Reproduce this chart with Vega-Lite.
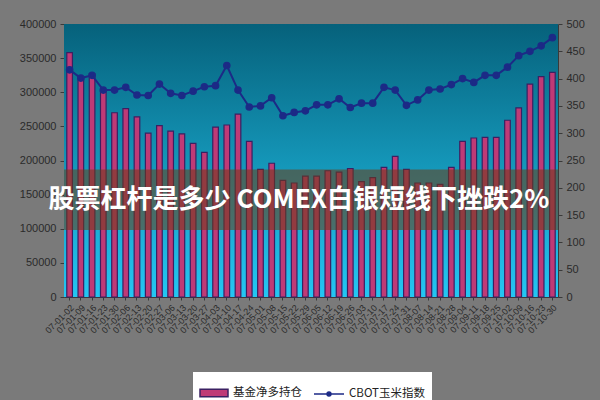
{
  "$schema": "https://vega.github.io/schema/vega-lite/v6.json",
  "width": 494,
  "height": 273,
  "autosize": "none",
  "padding": {"left": 64, "top": 24, "right": 42, "bottom": 103},
  "background": "#7a7a7a",
  "config": {
    "view": {"stroke": null},
    "axis": {"labelFont": "Liberation Sans", "labelColor": "#2a2a2a", "domainColor": "#3a3a3a", "tickColor": "#3a3a3a", "grid": false, "title": null, "labelOverlap": false},
    "legend": {"labelFont": "Noto Sans CJK SC", "labelFontSize": 11, "labelColor": "#222222", "title": null}
  },
  "data": {
    "values": [
      {"d": "07-01-02", "fund": 358000, "corn": 416},
      {"d": "07-01-09", "fund": 323000, "corn": 401},
      {"d": "07-01-16", "fund": 327000, "corn": 406},
      {"d": "07-01-23", "fund": 302000, "corn": 379},
      {"d": "07-01-30", "fund": 270000, "corn": 379},
      {"d": "07-02-06", "fund": 276000, "corn": 384},
      {"d": "07-02-13", "fund": 264000, "corn": 370},
      {"d": "07-02-20", "fund": 240000, "corn": 369},
      {"d": "07-02-27", "fund": 251000, "corn": 390},
      {"d": "07-03-06", "fund": 243000, "corn": 373},
      {"d": "07-03-13", "fund": 239000, "corn": 369},
      {"d": "07-03-20", "fund": 225000, "corn": 377},
      {"d": "07-03-27", "fund": 212000, "corn": 385},
      {"d": "07-04-03", "fund": 249000, "corn": 387},
      {"d": "07-04-10", "fund": 252000, "corn": 424},
      {"d": "07-04-17", "fund": 268000, "corn": 379},
      {"d": "07-04-24", "fund": 228000, "corn": 348},
      {"d": "07-05-01", "fund": 187000, "corn": 350},
      {"d": "07-05-08", "fund": 196000, "corn": 365},
      {"d": "07-05-15", "fund": 171000, "corn": 332},
      {"d": "07-05-22", "fund": 167000, "corn": 338},
      {"d": "07-05-29", "fund": 177000, "corn": 341},
      {"d": "07-06-05", "fund": 177000, "corn": 352},
      {"d": "07-06-12", "fund": 185000, "corn": 352},
      {"d": "07-06-19", "fund": 183000, "corn": 363},
      {"d": "07-06-26", "fund": 188000, "corn": 347},
      {"d": "07-07-03", "fund": 169000, "corn": 355},
      {"d": "07-07-10", "fund": 175000, "corn": 355},
      {"d": "07-07-17", "fund": 190000, "corn": 384},
      {"d": "07-07-24", "fund": 206000, "corn": 379},
      {"d": "07-07-31", "fund": 187000, "corn": 351},
      {"d": "07-08-07", "fund": 167000, "corn": 361},
      {"d": "07-08-14", "fund": 167000, "corn": 379},
      {"d": "07-08-21", "fund": 165000, "corn": 381},
      {"d": "07-08-28", "fund": 190000, "corn": 389},
      {"d": "07-09-04", "fund": 228000, "corn": 400},
      {"d": "07-09-11", "fund": 233000, "corn": 393},
      {"d": "07-09-18", "fund": 234000, "corn": 406},
      {"d": "07-09-25", "fund": 234000, "corn": 406},
      {"d": "07-10-02", "fund": 259000, "corn": 421},
      {"d": "07-10-09", "fund": 277000, "corn": 442},
      {"d": "07-10-16", "fund": 312000, "corn": 450},
      {"d": "07-10-23", "fund": 323000, "corn": 460},
      {"d": "07-10-30", "fund": 329000, "corn": 475}
    ]
  },
  "encoding": {
    "x": {
      "field": "d", "type": "ordinal", "sort": null,
      "scale": {"paddingInner": 0.5, "paddingOuter": 0.25},
      "axis": {"labelAngle": -45, "labelFontSize": 9, "tickSize": 3, "labelPadding": 3}
    }
  },
  "layer": [
    {
      "layer": [
        {
          "data": {"values": [{}]},
          "mark": {"type": "rect", "fill": {"gradient": "linear", "x1": 0, "y1": 0, "x2": 0, "y2": 1, "stops": [{"offset": 0, "color": "#06617b"}, {"offset": 0.5, "color": "#1495b7"}, {"offset": 1, "color": "#24c6f3"}]}},
          "encoding": {"x": null}
        },
        {
          "mark": {"type": "bar", "stroke": "#3b2062", "strokeWidth": 1.2},
          "encoding": {
            "y": {
              "field": "fund", "type": "quantitative",
              "scale": {"domain": [0, 400000], "nice": false},
              "axis": {"orient": "left", "values": [0, 50000, 100000, 150000, 200000, 250000, 300000, 350000, 400000], "format": "d", "labelFontSize": 11, "tickSize": 4, "labelPadding": 4, "labelOverlap": false}
            },
            "color": {
              "datum": "基金净多持仓",
              "scale": {"range": ["#bf3a76"]},
              "legend": {"orient": "none", "legendX": 129, "legendY": 348, "fillColor": "#ffffff", "padding": 6, "labelFontSize": 11.5, "symbolType": "M-1,-0.27H1V0.27H-1Z", "symbolSize": 784, "symbolStrokeColor": "#3b2062", "symbolStrokeWidth": 1.5, "symbolOpacity": 1}
            }
          }
        },
        {
          "data": {"values": [{}]},
          "mark": {"type": "rect", "fill": "#6e3c14", "opacity": 0.55},
          "encoding": {
            "x": null,
            "y": {"datum": 186800, "type": "quantitative",
              "axis": {"orient": "left", "values": [0, 50000, 100000, 150000, 200000, 250000, 300000, 350000, 400000], "format": "d", "labelFontSize": 11, "tickSize": 4, "labelPadding": 4, "labelOverlap": false}},
            "y2": {"datum": 98000}
          }
        },
        {
          "data": {"values": [{}]},
          "mark": {"type": "text", "font": "Noto Sans CJK SC", "fontWeight": "bold", "fontSize": 26, "color": "#ffffff", "align": "center", "baseline": "middle", "dx": -12},
          "encoding": {
            "x": null,
            "y": {"datum": 141900, "type": "quantitative",
              "axis": {"orient": "left", "values": [0, 50000, 100000, 150000, 200000, 250000, 300000, 350000, 400000], "format": "d", "labelFontSize": 11, "tickSize": 4, "labelPadding": 4, "labelOverlap": false}},
            "text": {"value": "股票杠杆是多少 COMEX白银短线下挫跌2%"}
          }
        }
      ]
    },
    {
      "mark": {"type": "line", "color": "#1c2a86", "strokeWidth": 2, "point": {"filled": true, "color": "#1c2a86", "size": 32}},
      "encoding": {
        "y": {
          "field": "corn", "type": "quantitative",
          "scale": {"domain": [0, 500], "nice": false},
          "axis": {"orient": "right", "values": [0, 50, 100, 150, 200, 250, 300, 350, 400, 450, 500], "labelFontSize": 11, "tickSize": 4, "labelPadding": 4}
        },
        "stroke": {
          "datum": "CBOT玉米指数",
          "scale": {"range": ["#1c2a86"]},
          "legend": {"orient": "none", "legendX": 243, "legendY": 348, "fillColor": "#ffffff", "padding": 6, "labelFontSize": 11.5, "symbolType": "M-1,0H1M-0.13,0A0.13,0.13,0,1,0,0.13,0A0.13,0.13,0,1,0,-0.13,0", "symbolSize": 900, "symbolFillColor": "#1c2a86", "symbolStrokeWidth": 1.5}
        }
      }
    }
  ],
  "resolve": {"scale": {"y": "independent"}}
}
